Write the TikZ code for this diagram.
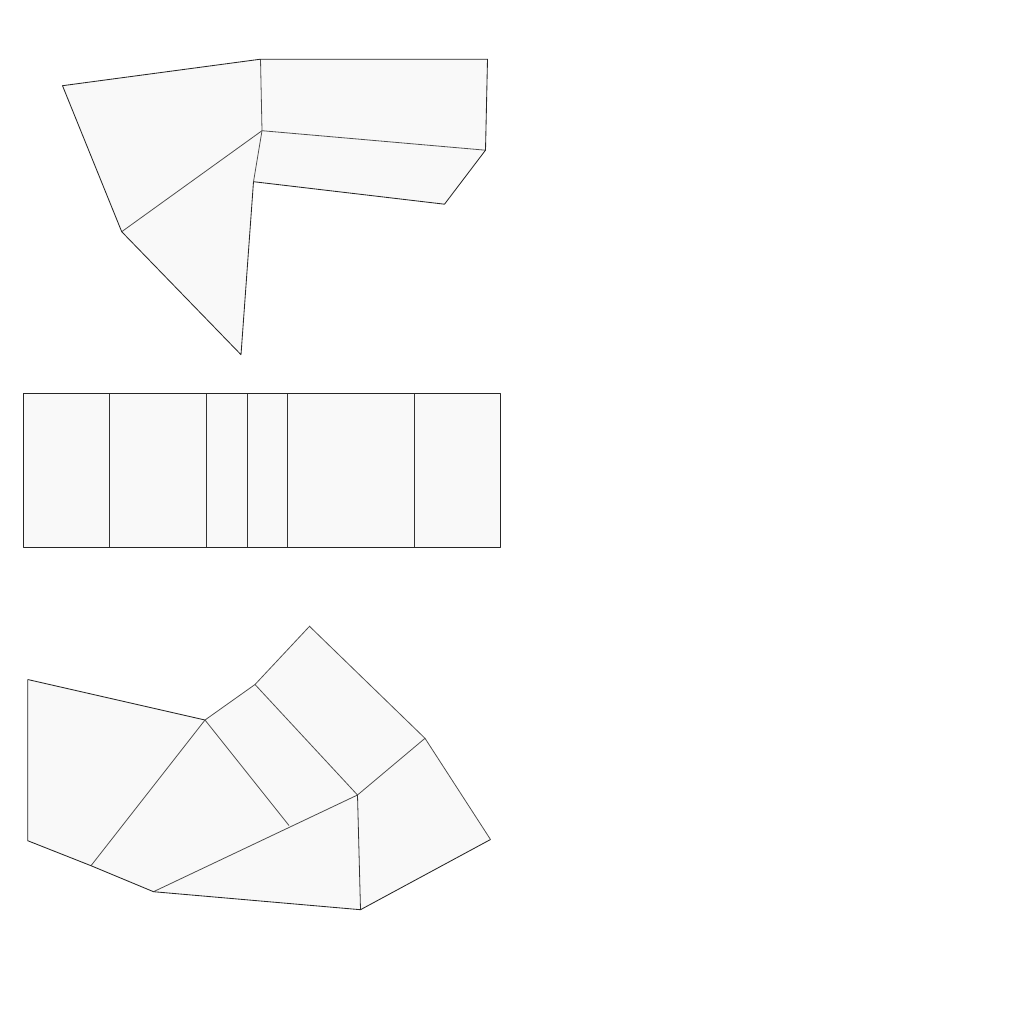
\documentclass[tikz,border=0pt]{standalone}
\definecolor{paneGray}{gray}{0.975}
\begin{document}
\begin{tikzpicture}[x=1pt,y=-1pt]
\tikzset{pane/.style={fill=paneGray,draw=none}}
\tikzset{outer/.style={draw=black!85,line width=0.85pt,line join=round}}
\tikzset{fold/.style={draw=black!70,line width=0.8pt}}
\useasboundingbox (0,0) rectangle (1024,1024);
% top shape
\coordinate (t1) at (62.5,85.7);
\coordinate (t2) at (260.5,59.2);
\coordinate (t3) at (487.5,59.2);
\coordinate (t4) at (485.5,150.2);
\coordinate (t5) at (444.5,204.2);
\coordinate (t6) at (253.5,181.7);
\coordinate (t7) at (241,354.7);
\coordinate (t8) at (121.7,231.7);
\coordinate (tc) at (262,130.7);
\path[pane] (t1) -- (t2) -- (t3) -- (t4) -- (t5) -- (t6) -- (t7) -- (t8) -- cycle;
\draw[fold] (t2) -- (tc);
\draw[fold] (tc) -- (t4);
\draw[fold] (tc) -- (t6);
\draw[fold] (tc) -- (t8);
\draw[outer] (t1) -- (t2) -- (t3) -- (t4) -- (t5) -- (t6) -- (t7) -- (t8) -- cycle;
% middle strip
\coordinate (ma) at (23.7,393.7);
\coordinate (mb) at (500.7,547.2);
\path[pane] (ma) rectangle (mb);
\foreach \x in {109.8,206.5,247,287.7,414.5}
    \draw[fold,draw=black!80] (\x,393.7) -- (\x,547.2);
\draw[outer] (ma) rectangle (mb);
% bottom shape
\coordinate (b1) at (27.7,679.5);
\coordinate (b2) at (205,720);
\coordinate (b3) at (255,684.5);
\coordinate (b4) at (309.5,626.3);
\coordinate (b5) at (425,738.3);
\coordinate (b6) at (490.5,839.5);
\coordinate (b7) at (360.5,909.7);
\coordinate (b8) at (153.5,891.7);
\coordinate (b9) at (91,865.7);
\coordinate (b10) at (27.7,840.7);
\coordinate (bc) at (357.5,795);
\coordinate (bd) at (289,825.5);
\path[pane] (b1) -- (b2) -- (b3) -- (b4) -- (b5) -- (b6) -- (b7) -- (b8) -- (b9) -- (b10) -- cycle;
\draw[fold] (b2) -- (b9);
\draw[fold] (b2) -- (bd);
\draw[fold] (b3) -- (bc);
\draw[fold] (b5) -- (bc);
\draw[fold] (b8) -- (bc);
\draw[fold,draw=black!80] (bc) -- (b7);
\draw[outer] (b1) -- (b2);
\draw[fold] (b2) -- (b3) -- (b4) -- (b5);
\draw[fold] (b5) -- (b6);
\draw[outer] (b6) -- (b7) -- (b8) -- (b9) -- (b10) -- (b1);
\end{tikzpicture}
\end{document}
